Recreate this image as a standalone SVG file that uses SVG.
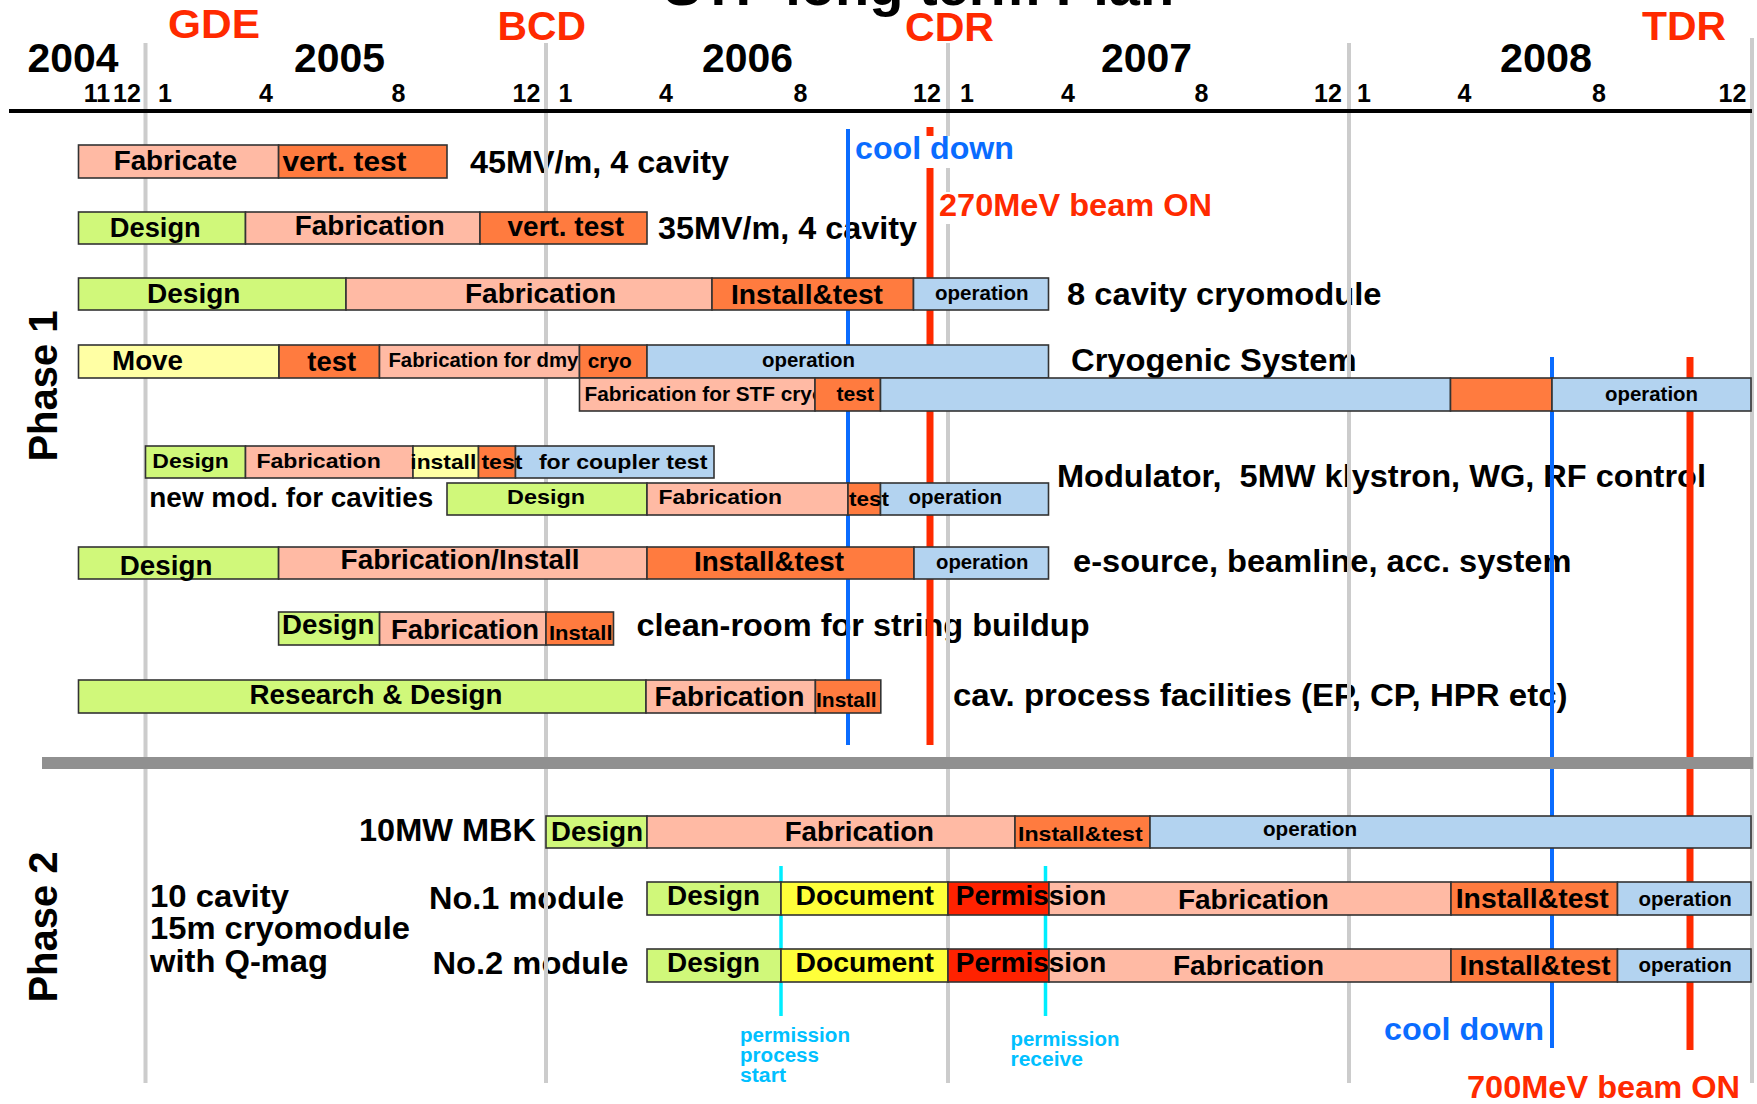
<svg xmlns="http://www.w3.org/2000/svg" width="1757" height="1104" viewBox="0 0 1757 1104">
<style>
text{font-family:"Liberation Sans",Arial,Helvetica,sans-serif;font-weight:bold;fill:#000}
.bar{stroke:#333;stroke-width:1.6}
.g{fill:#d0f87a}.p{fill:#ffbaa4}.o{fill:#ff7b3f}.b{fill:#b3d3f0}.y{fill:#ffffa4}.d{fill:#ffff3a}.r{fill:#ff2200}
.L{font-size:27px}.S{font-size:21px}.D{font-size:31px}
.yr{font-size:40px}.mo{font-size:25px;text-anchor:middle}
.ms{font-size:41px;fill:#ff2a00}
.red{fill:#ff2a00;font-size:32px}.blu{fill:#0a6cff;font-size:32px}
.cy{fill:#00c0ff;font-size:20px}
.grid{stroke:#cccccc;stroke-width:4}
</style>
<rect width="1757" height="1104" fill="#fff"/>

<g id="header">
<text x="919" y="5" font-size="56" text-anchor="middle">STF long term Plan</text>
<text class="ms" x="168" y="38" textLength="92" lengthAdjust="spacingAndGlyphs">GDE</text>
<text class="ms" x="497.5" y="40" textLength="88.5" lengthAdjust="spacingAndGlyphs">BCD</text>
<text class="ms" x="905" y="41" textLength="89" lengthAdjust="spacingAndGlyphs">CDR</text>
<text class="ms" x="1642" y="40" textLength="84" lengthAdjust="spacingAndGlyphs">TDR</text>
<text class="yr" x="27.5" y="72" textLength="91" lengthAdjust="spacingAndGlyphs">2004</text>
<text class="yr" x="294" y="72" textLength="91" lengthAdjust="spacingAndGlyphs">2005</text>
<text class="yr" x="702" y="72" textLength="91" lengthAdjust="spacingAndGlyphs">2006</text>
<text class="yr" x="1101" y="72" textLength="91" lengthAdjust="spacingAndGlyphs">2007</text>
<text class="yr" x="1500" y="72" textLength="92" lengthAdjust="spacingAndGlyphs">2008</text>
<text class="mo" x="97" y="102">11</text>
<text class="mo" x="127" y="102">12</text>
<text class="mo" x="165" y="102">1</text>
<text class="mo" x="266" y="102">4</text>
<text class="mo" x="398.5" y="102">8</text>
<text class="mo" x="526.5" y="102">12</text>
<text class="mo" x="565.5" y="102">1</text>
<text class="mo" x="666" y="102">4</text>
<text class="mo" x="800.5" y="102">8</text>
<text class="mo" x="927" y="102">12</text>
<text class="mo" x="967" y="102">1</text>
<text class="mo" x="1068" y="102">4</text>
<text class="mo" x="1201.5" y="102">8</text>
<text class="mo" x="1328" y="102">12</text>
<text class="mo" x="1364" y="102">1</text>
<text class="mo" x="1464.5" y="102">4</text>
<text class="mo" x="1599" y="102">8</text>
<text class="mo" x="1732.5" y="102">12</text>
<text x="57" y="386" font-size="40" text-anchor="middle" transform="rotate(-90 57 386)">Phase 1</text>
<text x="57" y="927" font-size="40" text-anchor="middle" transform="rotate(-90 57 927)">Phase 2</text>
</g>

<g id="descriptions">
<text class="D" x="470" y="173" textLength="259" lengthAdjust="spacingAndGlyphs">45MV/m, 4 cavity</text>
<text class="D" x="658" y="239" textLength="259" lengthAdjust="spacingAndGlyphs">35MV/m, 4 cavity</text>
<text class="D" x="1067" y="305" textLength="314.5" lengthAdjust="spacingAndGlyphs">8 cavity cryomodule</text>
<text class="D" x="1071" y="371" textLength="285.5" lengthAdjust="spacingAndGlyphs">Cryogenic System</text>
<text class="D" x="1057" y="487" textLength="649" lengthAdjust="spacingAndGlyphs" xml:space="preserve">Modulator,  5MW klystron, WG, RF control</text>
<text x="149.3" y="507" font-size="27" textLength="284" lengthAdjust="spacingAndGlyphs">new mod. for cavities</text>
<text class="D" x="1073" y="572" textLength="498.5" lengthAdjust="spacingAndGlyphs">e-source, beamline, acc. system</text>
<text class="D" x="636.5" y="636" textLength="453" lengthAdjust="spacingAndGlyphs">clean-room for string buildup</text>
<text class="D" x="953" y="706" textLength="614.5" lengthAdjust="spacingAndGlyphs">cav. process facilities (EP, CP, HPR etc)</text>
<text class="D" x="359" y="841" textLength="177" lengthAdjust="spacingAndGlyphs">10MW MBK</text>
<text class="D" x="150" y="907" textLength="139" lengthAdjust="spacingAndGlyphs">10 cavity</text>
<text class="D" x="150" y="939" textLength="260" lengthAdjust="spacingAndGlyphs">15m cryomodule</text>
<text class="D" x="150" y="972" textLength="178" lengthAdjust="spacingAndGlyphs">with Q-mag</text>
<text class="D" x="429" y="909" textLength="195" lengthAdjust="spacingAndGlyphs">No.1 module</text>
<text class="D" x="432.5" y="974" textLength="196" lengthAdjust="spacingAndGlyphs">No.2 module</text>
</g>

<g id="gridlines">
<line class="grid" x1="145.5" y1="43" x2="145.5" y2="1083"/>
<line class="grid" x1="546" y1="43" x2="546" y2="1083"/>
<line class="grid" x1="948" y1="43" x2="948" y2="1083"/>
<line class="grid" x1="1349" y1="43" x2="1349" y2="1083"/>
<line class="grid" x1="1752" y1="38" x2="1752" y2="1083"/>
<line x1="9" y1="111" x2="1752" y2="111" stroke="#000" stroke-width="4"/>
</g>

<g id="connectors">
<line x1="848" y1="129" x2="848" y2="745" stroke="#0a6cff" stroke-width="4"/>
<line x1="930" y1="127" x2="930" y2="136" stroke="#ff2a00" stroke-width="7"/>
<line x1="930" y1="168" x2="930" y2="745" stroke="#ff2a00" stroke-width="7"/>
<line x1="1552" y1="357" x2="1552" y2="1048" stroke="#0a6cff" stroke-width="4"/>
<line x1="1690" y1="357" x2="1690" y2="1050" stroke="#ff2a00" stroke-width="7"/>
<line x1="781" y1="866" x2="781" y2="1016" stroke="#00eeff" stroke-width="3.5"/>
<line x1="1045.5" y1="866" x2="1045.5" y2="1016" stroke="#00eeff" stroke-width="3.5"/>
<rect x="42" y="757" width="1711" height="12" fill="#909090"/>
</g>

<g id="milestone-labels">
<rect x="853" y="136" width="164" height="32" fill="#fff"/>
<text class="blu" x="855" y="159" textLength="159" lengthAdjust="spacingAndGlyphs">cool down</text>
<rect x="936" y="192" width="280" height="32" fill="#fff"/>
<text class="red" x="939" y="216" textLength="273" lengthAdjust="spacingAndGlyphs">270MeV beam ON</text>
<text class="blu" x="1384" y="1040" textLength="160" lengthAdjust="spacingAndGlyphs">cool down</text>
<text class="red" x="1467" y="1098" textLength="273" lengthAdjust="spacingAndGlyphs">700MeV beam ON</text>
<text class="cy" x="740" y="1042" textLength="110" lengthAdjust="spacingAndGlyphs">permission</text>
<text class="cy" x="740" y="1062" textLength="79" lengthAdjust="spacingAndGlyphs">process</text>
<text class="cy" x="740" y="1082" textLength="46" lengthAdjust="spacingAndGlyphs">start</text>
<text class="cy" x="1010.5" y="1045.5" textLength="109" lengthAdjust="spacingAndGlyphs">permission</text>
<text class="cy" x="1010.5" y="1065.5" textLength="72.5" lengthAdjust="spacingAndGlyphs">receive</text>
</g>

<g id="row-45MV">
<rect class="bar p" x="78.5" y="145" width="200.1" height="33"/>
<rect class="bar o" x="278.6" y="145" width="168.4" height="33"/>
<text class="L" x="113.7" y="170" textLength="123.6" lengthAdjust="spacingAndGlyphs">Fabricate</text>
<text class="L" x="282.4" y="171" textLength="124" lengthAdjust="spacingAndGlyphs">vert. test</text>
</g>

<g id="row-35MV">
<rect class="bar g" x="78.5" y="212" width="167" height="32"/>
<rect class="bar p" x="245.5" y="212" width="234.5" height="32"/>
<rect class="bar o" x="480" y="212" width="167" height="32"/>
<text class="L" x="109.8" y="237" textLength="91" lengthAdjust="spacingAndGlyphs">Design</text>
<text class="L" x="294.7" y="235" textLength="150" lengthAdjust="spacingAndGlyphs">Fabrication</text>
<text class="L" x="507.6" y="236" textLength="116.4" lengthAdjust="spacingAndGlyphs">vert. test</text>
</g>

<g id="row-8cavity">
<rect class="bar g" x="78.5" y="278" width="267.5" height="32"/>
<rect class="bar p" x="346" y="278" width="366" height="32"/>
<rect class="bar o" x="712" y="278" width="201.5" height="32"/>
<rect class="bar b" x="913.5" y="278" width="135" height="32"/>
<text class="L" x="147" y="303" textLength="93.5" lengthAdjust="spacingAndGlyphs">Design</text>
<text class="L" x="465" y="303" textLength="151" lengthAdjust="spacingAndGlyphs">Fabrication</text>
<text class="L" x="731" y="304" textLength="152" lengthAdjust="spacingAndGlyphs">Install&amp;test</text>
<text class="S" x="935" y="300" textLength="93.5" lengthAdjust="spacingAndGlyphs">operation</text>
</g>

<g id="row-cryo">
<rect class="bar y" x="78.5" y="345" width="200.5" height="33"/>
<rect class="bar o" x="279" y="345" width="100.5" height="33"/>
<rect class="bar p" x="379.5" y="345" width="200" height="33"/>
<rect class="bar o" x="579.5" y="345" width="67.5" height="33"/>
<rect class="bar b" x="647" y="345" width="401.5" height="33"/>
<text class="L" x="112" y="370" textLength="71" lengthAdjust="spacingAndGlyphs">Move</text>
<text class="L" x="307.3" y="371" textLength="48.7" lengthAdjust="spacingAndGlyphs">test</text>
<text class="S" x="388.4" y="367" textLength="190" lengthAdjust="spacingAndGlyphs">Fabrication for dmy</text>
<text class="S" x="587.7" y="368" textLength="44" lengthAdjust="spacingAndGlyphs">cryo</text>
<text class="S" x="762" y="367" textLength="93" lengthAdjust="spacingAndGlyphs">operation</text>
</g>

<g id="row-cryo-stf">
<rect class="bar p" x="579.5" y="378" width="235.5" height="33"/>
<text class="S" x="584.6" y="401" textLength="240" lengthAdjust="spacingAndGlyphs">Fabrication for STF cryo</text>
<rect class="bar o" x="815" y="378" width="65.5" height="33"/>
<rect class="bar b" x="880.5" y="378" width="570" height="33"/>
<rect class="bar o" x="1450.5" y="378" width="101.5" height="33"/>
<rect class="bar b" x="1552" y="378" width="199" height="33"/>
<text class="S" x="836.4" y="401" textLength="37.6" lengthAdjust="spacingAndGlyphs">test</text>
<text class="S" x="1605" y="401" textLength="93" lengthAdjust="spacingAndGlyphs">operation</text>
</g>

<g id="row-coupler">
<rect class="bar g" x="145.5" y="446" width="100" height="32"/>
<rect class="bar p" x="245.5" y="446" width="167.5" height="32"/>
<rect class="bar y" x="413" y="446" width="65.5" height="32"/>
<rect class="bar o" x="478.5" y="446" width="37" height="32"/>
<rect class="bar b" x="515.5" y="446" width="198.5" height="32"/>
<text class="S" x="152.3" y="468" textLength="76.6" lengthAdjust="spacingAndGlyphs">Design</text>
<text class="S" x="256.4" y="468" textLength="124.4" lengthAdjust="spacingAndGlyphs">Fabrication</text>
<text class="S" x="410.3" y="469" textLength="66" lengthAdjust="spacingAndGlyphs">install</text>
<text class="S" x="481.4" y="469" textLength="41" lengthAdjust="spacingAndGlyphs">test</text>
<text class="S" x="538.9" y="469" textLength="168.5" lengthAdjust="spacingAndGlyphs">for coupler test</text>
</g>

<g id="row-modulator">
<rect class="bar g" x="447" y="483" width="200" height="32"/>
<rect class="bar p" x="647" y="483" width="201" height="32"/>
<rect class="bar o" x="848" y="483" width="32.5" height="32"/>
<rect class="bar b" x="880.5" y="483" width="168" height="32"/>
<text class="S" x="507" y="504" textLength="78" lengthAdjust="spacingAndGlyphs">Design</text>
<text class="S" x="658.5" y="504" textLength="123.5" lengthAdjust="spacingAndGlyphs">Fabrication</text>
<text class="S" x="849" y="506" textLength="40" lengthAdjust="spacingAndGlyphs">test</text>
<text class="S" x="908.4" y="504" textLength="93.6" lengthAdjust="spacingAndGlyphs">operation</text>
</g>

<g id="row-esource">
<rect class="bar g" x="78.5" y="547" width="200.1" height="32"/>
<rect class="bar p" x="278.6" y="547" width="368.4" height="32"/>
<rect class="bar o" x="647" y="547" width="267" height="32"/>
<rect class="bar b" x="914" y="547" width="134.5" height="32"/>
<text class="L" x="119.8" y="575" textLength="92.6" lengthAdjust="spacingAndGlyphs">Design</text>
<text class="L" x="340.6" y="569" textLength="239" lengthAdjust="spacingAndGlyphs">Fabrication/Install</text>
<text class="L" x="694" y="571" textLength="150" lengthAdjust="spacingAndGlyphs">Install&amp;test</text>
<text class="S" x="936" y="569" textLength="92.5" lengthAdjust="spacingAndGlyphs">operation</text>
</g>

<g id="row-cleanroom">
<rect class="bar g" x="278.6" y="612" width="101" height="33"/>
<rect class="bar p" x="379.6" y="612" width="166.4" height="33"/>
<rect class="bar o" x="546" y="612" width="67.5" height="33"/>
<text class="L" x="282" y="634" textLength="92.3" lengthAdjust="spacingAndGlyphs">Design</text>
<text class="L" x="391" y="639" textLength="148" lengthAdjust="spacingAndGlyphs">Fabrication</text>
<text class="S" x="549" y="640" textLength="63.5" lengthAdjust="spacingAndGlyphs">Install</text>
</g>

<g id="row-process">
<rect class="bar g" x="78.5" y="680" width="567.5" height="33"/>
<rect class="bar p" x="646" y="680" width="169.4" height="33"/>
<rect class="bar o" x="815.4" y="680" width="65.4" height="33"/>
<text class="L" x="249.5" y="704" textLength="253" lengthAdjust="spacingAndGlyphs">Research &amp; Design</text>
<text class="L" x="654.6" y="706" textLength="150" lengthAdjust="spacingAndGlyphs">Fabrication</text>
<text class="S" x="816" y="707" textLength="60.6" lengthAdjust="spacingAndGlyphs">Install</text>
</g>

<g id="row-mbk">
<rect class="bar g" x="546" y="816" width="101" height="32"/>
<rect class="bar p" x="647" y="816" width="368" height="32"/>
<rect class="bar o" x="1015" y="816" width="135" height="32"/>
<rect class="bar b" x="1150" y="816" width="601" height="32"/>
<text class="L" x="551" y="841" textLength="92" lengthAdjust="spacingAndGlyphs">Design</text>
<text class="L" x="784.7" y="841" textLength="149.3" lengthAdjust="spacingAndGlyphs">Fabrication</text>
<text class="S" x="1018" y="841" textLength="124.6" lengthAdjust="spacingAndGlyphs">Install&amp;test</text>
<text class="S" x="1263" y="836" textLength="94" lengthAdjust="spacingAndGlyphs">operation</text>
</g>

<g id="row-no1">
<rect class="bar g" x="647" y="882" width="134" height="33"/>
<rect class="bar d" x="781" y="882" width="167" height="33"/>
<rect class="bar r" x="948" y="882" width="101" height="33"/>
<rect class="bar p" x="1049" y="882" width="402" height="33"/>
<rect class="bar o" x="1451" y="882" width="166.5" height="33"/>
<rect class="bar b" x="1617.5" y="882" width="133.5" height="33"/>
<text class="L" x="667" y="905" textLength="93" lengthAdjust="spacingAndGlyphs">Design</text>
<text class="L" x="795.5" y="905" textLength="138.5" lengthAdjust="spacingAndGlyphs">Document</text>
<text class="L" x="955.8" y="905" textLength="150.4" lengthAdjust="spacingAndGlyphs">Permission</text>
<text class="L" x="1177.9" y="909" textLength="151" lengthAdjust="spacingAndGlyphs">Fabrication</text>
<text class="L" x="1455.7" y="908" textLength="153" lengthAdjust="spacingAndGlyphs">Install&amp;test</text>
<text class="S" x="1638.4" y="906" textLength="93.3" lengthAdjust="spacingAndGlyphs">operation</text>
</g>

<g id="row-no2">
<rect class="bar g" x="647" y="949" width="134" height="33"/>
<rect class="bar d" x="781" y="949" width="167" height="33"/>
<rect class="bar r" x="948" y="949" width="101" height="33"/>
<rect class="bar p" x="1049" y="949" width="402" height="33"/>
<rect class="bar o" x="1451" y="949" width="166.5" height="33"/>
<rect class="bar b" x="1617.5" y="949" width="133.5" height="33"/>
<text class="L" x="667" y="972" textLength="93" lengthAdjust="spacingAndGlyphs">Design</text>
<text class="L" x="795.5" y="972" textLength="138.5" lengthAdjust="spacingAndGlyphs">Document</text>
<text class="L" x="955.8" y="972" textLength="150.4" lengthAdjust="spacingAndGlyphs">Permission</text>
<text class="L" x="1173" y="975" textLength="151" lengthAdjust="spacingAndGlyphs">Fabrication</text>
<text class="L" x="1459.6" y="975" textLength="151" lengthAdjust="spacingAndGlyphs">Install&amp;test</text>
<text class="S" x="1638.4" y="972" textLength="93.3" lengthAdjust="spacingAndGlyphs">operation</text>
</g>
</svg>
